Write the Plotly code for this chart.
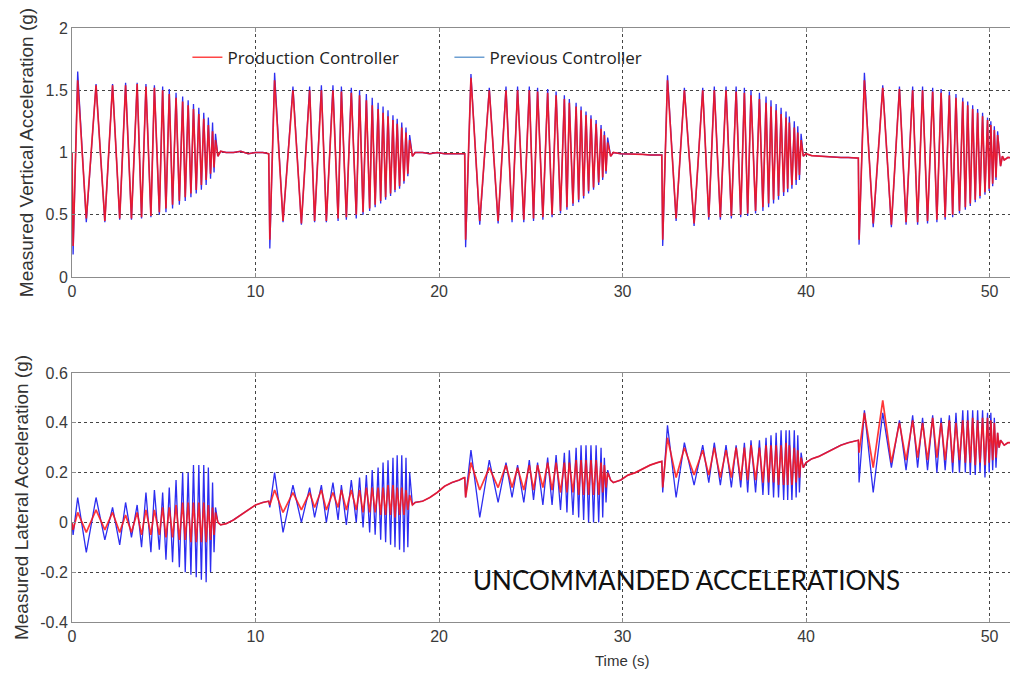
import plotly.graph_objects as go
from plotly.subplots import make_subplots

# ---- sweep 1 : times of the extrema (s) and the values (g)
t1 = [0.00, 0.06,
      0.31, 0.78, 1.31, 1.79, 2.21, 2.60,
      2.92, 3.24, 3.55, 3.79, 4.03, 4.30,
      4.49, 4.76, 4.94, 5.12, 5.30, 5.48,
      5.67, 5.85, 6.03, 6.17, 6.33, 6.48,
      6.62, 6.77, 6.91, 7.05, 7.18, 7.31,
      7.43, 7.55, 7.66, 7.74, 7.82]
vert_prod1 = [1.00, 0.25,
              1.58, 0.47, 1.54, 0.45, 1.54, 0.47,
              1.54, 0.47, 1.55, 0.48, 1.53, 0.49,
              1.52, 0.52, 1.50, 0.55, 1.47, 0.58,
              1.44, 0.61, 1.41, 0.64, 1.38, 0.67,
              1.35, 0.70, 1.31, 0.74, 1.27, 0.78,
              1.22, 0.83, 1.17, 0.88, 1.10]
vert_prev1 = [1.00, 0.18,
              1.65, 0.44, 1.55, 0.44, 1.55, 0.46,
              1.56, 0.46, 1.56, 0.47, 1.55, 0.48,
              1.54, 0.50, 1.53, 0.52, 1.51, 0.55,
              1.48, 0.58, 1.45, 0.61, 1.42, 0.64,
              1.39, 0.67, 1.36, 0.70, 1.32, 0.74,
              1.28, 0.79, 1.24, 0.84, 1.15]
lat_prod1 = [0.00, -0.03,
             0.04, -0.04, 0.05, -0.03, 0.04, -0.04,
             0.03, -0.04, 0.04, -0.05, 0.05, -0.05,
             0.05, -0.05, 0.06, -0.06, 0.06, -0.06,
             0.07, -0.07, 0.08, -0.07, 0.08, -0.08,
             0.08, -0.08, 0.08, -0.08, 0.08, -0.08,
             0.07, -0.07, 0.06, -0.05, 0.04]
lat_prev1 = [0.00, -0.05,
             0.10, -0.12, 0.10, -0.07, 0.06, -0.09,
             0.08, -0.06, 0.07, -0.10, 0.12, -0.12,
             0.13, -0.11, 0.12, -0.15, 0.14, -0.16,
             0.17, -0.18, 0.20, -0.20, 0.20, -0.21,
             0.23, -0.22, 0.23, -0.23, 0.23, -0.24,
             0.22, -0.20, 0.16, -0.12, 0.06]

# ---- sweep 2
t2 = [10.72, 10.78,
      11.04, 11.50, 12.04, 12.50, 12.95, 13.22,
      13.59, 13.86, 14.22, 14.50, 14.68, 14.95,
      15.22, 15.49, 15.67, 15.86, 16.04, 16.22,
      16.36, 16.52, 16.68, 16.82, 16.95, 17.09,
      17.22, 17.36, 17.49, 17.60, 17.72, 17.85,
      17.97, 18.09, 18.20, 18.30, 18.40]
vert_prod2 = [0.99, 0.30,
              1.58, 0.45, 1.50, 0.43, 1.50, 0.45,
              1.50, 0.45, 1.50, 0.47, 1.49, 0.48,
              1.48, 0.50, 1.46, 0.52, 1.42, 0.55,
              1.38, 0.58, 1.35, 0.61, 1.32, 0.64,
              1.29, 0.67, 1.26, 0.70, 1.23, 0.73,
              1.20, 0.77, 1.16, 0.83, 1.10]
vert_prev2 = [0.99, 0.23,
              1.64, 0.44, 1.53, 0.42, 1.53, 0.44,
              1.54, 0.44, 1.54, 0.45, 1.53, 0.46,
              1.52, 0.47, 1.50, 0.50, 1.47, 0.53,
              1.44, 0.56, 1.40, 0.59, 1.37, 0.62,
              1.34, 0.65, 1.30, 0.68, 1.27, 0.71,
              1.24, 0.75, 1.20, 0.81, 1.14]
lat_prod2 = [0.085, 0.07,
             0.13, 0.04, 0.12, 0.05, 0.12, 0.06,
             0.13, 0.05, 0.12, 0.06, 0.13, 0.05,
             0.13, 0.05, 0.13, 0.04, 0.14, 0.04,
             0.14, 0.04, 0.14, 0.03, 0.14, 0.03,
             0.15, 0.03, 0.15, 0.02, 0.14, 0.03,
             0.14, 0.03, 0.13, 0.05, 0.11]
lat_prev2 = [0.085, 0.06,
             0.20, -0.04, 0.15, 0.00, 0.14, 0.02,
             0.15, 0.00, 0.16, 0.01, 0.15, -0.01,
             0.17, 0.00, 0.18, -0.02, 0.19, -0.04,
             0.21, -0.05, 0.22, -0.07, 0.24, -0.08,
             0.25, -0.09, 0.26, -0.10, 0.27, -0.11,
             0.27, -0.12, 0.26, -0.10, 0.20]

# ---- sweep 3
t3 = [21.40, 21.45,
      21.74, 22.22, 22.74, 23.22, 23.65, 23.98,
      24.28, 24.62, 24.92, 25.15, 25.37, 25.66,
      25.92, 26.16, 26.38, 26.62, 26.83, 26.97,
      27.10, 27.30, 27.47, 27.61, 27.74, 27.88,
      28.01, 28.15, 28.28, 28.42, 28.56, 28.70,
      28.83, 28.92, 29.01, 29.10, 29.19]
vert_prod3 = [0.99, 0.30,
              1.60, 0.45, 1.50, 0.45, 1.50, 0.46,
              1.50, 0.46, 1.50, 0.47, 1.49, 0.48,
              1.48, 0.50, 1.46, 0.53, 1.43, 0.56,
              1.40, 0.59, 1.37, 0.62, 1.34, 0.65,
              1.30, 0.69, 1.27, 0.72, 1.23, 0.76,
              1.19, 0.80, 1.14, 0.85, 1.08]
vert_prev3 = [0.99, 0.24,
              1.63, 0.42, 1.52, 0.43, 1.53, 0.44,
              1.53, 0.44, 1.53, 0.45, 1.52, 0.46,
              1.51, 0.48, 1.49, 0.51, 1.46, 0.54,
              1.43, 0.57, 1.40, 0.60, 1.37, 0.63,
              1.33, 0.67, 1.30, 0.70, 1.26, 0.74,
              1.22, 0.78, 1.17, 0.83, 1.12]
lat_prod3 = [0.18, 0.10,
             0.24, 0.13, 0.22, 0.14, 0.23, 0.14,
             0.22, 0.13, 0.23, 0.13, 0.23, 0.14,
             0.24, 0.13, 0.24, 0.12, 0.24, 0.12,
             0.24, 0.12, 0.25, 0.11, 0.25, 0.11,
             0.25, 0.11, 0.25, 0.11, 0.25, 0.11,
             0.24, 0.12, 0.23, 0.14, 0.20]
lat_prev3 = [0.18, 0.10,
             0.29, 0.02, 0.25, 0.08, 0.24, 0.10,
             0.23, 0.08, 0.25, 0.09, 0.24, 0.07,
             0.26, 0.07, 0.27, 0.05, 0.28, 0.04,
             0.29, 0.03, 0.30, 0.02, 0.31, 0.01,
             0.31, 0.00, 0.31, 0.00, 0.31, 0.00,
             0.30, 0.02, 0.26, 0.08, 0.21]

# ---- sweep 4
t4 = [32.14, 32.19,
      32.45, 32.92, 33.37, 33.90, 34.37, 34.70,
      35.00, 35.33, 35.64, 35.93, 36.19, 36.44,
      36.64, 36.82, 37.00, 37.25, 37.46, 37.65,
      37.82, 37.96, 38.09, 38.23, 38.37, 38.50,
      38.64, 38.78, 38.91, 39.00, 39.09, 39.23,
      39.36, 39.46, 39.55, 39.64, 39.73]
vert_prod4 = [0.98, 0.30,
              1.58, 0.47, 1.50, 0.43, 1.50, 0.48,
              1.50, 0.48, 1.50, 0.49, 1.49, 0.50,
              1.48, 0.51, 1.46, 0.53, 1.43, 0.56,
              1.40, 0.59, 1.37, 0.62, 1.34, 0.65,
              1.31, 0.68, 1.28, 0.71, 1.24, 0.74,
              1.20, 0.78, 1.16, 0.82, 1.10]
vert_prev4 = [0.98, 0.25,
              1.62, 0.45, 1.52, 0.41, 1.52, 0.46,
              1.53, 0.46, 1.53, 0.47, 1.53, 0.48,
              1.52, 0.49, 1.50, 0.51, 1.48, 0.53,
              1.45, 0.56, 1.42, 0.59, 1.39, 0.62,
              1.36, 0.65, 1.33, 0.68, 1.29, 0.71,
              1.25, 0.74, 1.21, 0.78, 1.15]
lat_prod4 = [0.245, 0.14,
             0.34, 0.18, 0.30, 0.19, 0.29, 0.19,
             0.30, 0.18, 0.29, 0.18, 0.30, 0.17,
             0.30, 0.17, 0.31, 0.17, 0.30, 0.16,
             0.31, 0.16, 0.31, 0.16, 0.31, 0.15,
             0.31, 0.15, 0.32, 0.15, 0.31, 0.15,
             0.30, 0.16, 0.29, 0.18, 0.26]
lat_prev4 = [0.245, 0.12,
             0.39, 0.10, 0.32, 0.15, 0.31, 0.16,
             0.32, 0.15, 0.31, 0.14, 0.31, 0.14,
             0.32, 0.12, 0.33, 0.12, 0.33, 0.11,
             0.34, 0.11, 0.35, 0.10, 0.36, 0.10,
             0.37, 0.09, 0.37, 0.09, 0.37, 0.09,
             0.37, 0.10, 0.35, 0.12, 0.28]

# ---- sweep 5
t5 = [42.85, 42.89,
      43.18, 43.66, 44.18, 44.65, 45.09, 45.45,
      45.81, 46.08, 46.35, 46.62, 46.90, 47.13,
      47.36, 47.58, 47.81, 47.99, 48.17, 48.36,
      48.54, 48.68, 48.81, 48.95, 49.08, 49.22,
      49.35, 49.48, 49.62, 49.75, 49.89, 49.98,
      50.07, 50.17, 50.26, 50.35, 50.44]
vert_prod5 = [0.955, 0.30,
              1.58, 0.43, 1.52, 0.42, 1.51, 0.44,
              1.50, 0.44, 1.50, 0.45, 1.49, 0.46,
              1.48, 0.48, 1.46, 0.50, 1.44, 0.53,
              1.41, 0.56, 1.38, 0.59, 1.35, 0.62,
              1.32, 0.65, 1.29, 0.68, 1.26, 0.71,
              1.22, 0.75, 1.18, 0.80, 1.14]
vert_prev5 = [0.955, 0.26,
              1.64, 0.40, 1.54, 0.40, 1.53, 0.42,
              1.53, 0.42, 1.53, 0.43, 1.52, 0.44,
              1.51, 0.46, 1.49, 0.48, 1.47, 0.51,
              1.44, 0.54, 1.41, 0.57, 1.38, 0.60,
              1.35, 0.63, 1.32, 0.66, 1.28, 0.69,
              1.25, 0.73, 1.21, 0.78, 1.17]
lat_prod5 = [0.33, 0.28,
             0.44, 0.22, 0.49, 0.24, 0.40, 0.25,
             0.41, 0.26, 0.40, 0.25, 0.42, 0.26,
             0.40, 0.25, 0.41, 0.24, 0.40, 0.25,
             0.41, 0.24, 0.41, 0.24, 0.42, 0.23,
             0.41, 0.24, 0.42, 0.23, 0.42, 0.24,
             0.41, 0.25, 0.40, 0.26, 0.36]
lat_prev5 = [0.33, 0.16,
             0.45, 0.12, 0.44, 0.22, 0.41, 0.21,
             0.43, 0.22, 0.42, 0.21, 0.43, 0.20,
             0.42, 0.21, 0.43, 0.20, 0.44, 0.20,
             0.45, 0.20, 0.45, 0.19, 0.45, 0.19,
             0.45, 0.20, 0.45, 0.18, 0.44, 0.20,
             0.44, 0.21, 0.42, 0.22, 0.36]

# ---- quiet stretches after each sweep (both controllers overlap here)
tq1 = [7.95, 8.10, 8.40, 8.80, 9.20, 9.60, 10.00, 10.40, 10.68]
vert_q1 = [0.97, 1.01, 1.00, 1.00, 1.01, 0.99, 1.00, 1.00, 0.99]
lat_q1 = [0.00, -0.01, -0.005, 0.01, 0.03, 0.05, 0.07, 0.08, 0.085]

tq2 = [18.55, 18.70, 19.10, 19.50, 19.90, 20.30, 20.70, 21.10, 21.37]
vert_q2 = [0.97, 1.00, 1.00, 0.99, 1.00, 0.99, 0.99, 0.99, 0.985]
lat_q2 = [0.07, 0.08, 0.085, 0.10, 0.12, 0.145, 0.16, 0.17, 0.18]

tq3 = [29.35, 29.50, 29.90, 30.30, 30.70, 31.10, 31.50, 31.90, 32.11]
vert_q3 = [0.97, 1.00, 0.99, 0.99, 0.985, 0.985, 0.98, 0.98, 0.98]
lat_q3 = [0.17, 0.16, 0.17, 0.19, 0.20, 0.215, 0.23, 0.24, 0.245]

tq4 = [39.85, 40.00, 40.30, 40.70, 41.10, 41.50, 41.90, 42.30, 42.82]
vert_q4 = [0.97, 0.99, 0.975, 0.97, 0.97, 0.965, 0.96, 0.96, 0.955]
lat_q4 = [0.22, 0.24, 0.255, 0.265, 0.28, 0.295, 0.31, 0.32, 0.33]

tq5 = [50.52, 50.60, 50.70, 50.80, 51.00, 51.30, 51.60]
vert_q5 = [1.02, 0.89, 0.97, 0.94, 0.96, 0.955, 0.955]
lat_q5 = [0.30, 0.33, 0.32, 0.31, 0.32, 0.32, 0.32]

x_ticks = [0, 10, 20, 30, 40, 50]
vert_ticks = [0, 0.5, 1, 1.5, 2]
lat_ticks = [-0.4, -0.2, 0, 0.2, 0.4, 0.6]
lat_ticktext = ['-0.4', '-0.2', '0', '0.2', '0.4', '0.6']

sweeps = [(t1, vert_prod1, vert_prev1, lat_prod1, lat_prev1),
          (t2, vert_prod2, vert_prev2, lat_prod2, lat_prev2),
          (t3, vert_prod3, vert_prev3, lat_prod3, lat_prev3),
          (t4, vert_prod4, vert_prev4, lat_prod4, lat_prev4),
          (t5, vert_prod5, vert_prev5, lat_prod5, lat_prev5)]
quiets = [(tq1, vert_q1, lat_q1), (tq2, vert_q2, lat_q2), (tq3, vert_q3, lat_q3),
          (tq4, vert_q4, lat_q4), (tq5, vert_q5, lat_q5)]

time, vert_prod, vert_prev, lat_prod, lat_prev = [], [], [], [], []
for s, q in zip(sweeps, quiets):
    time += s[0] + q[0]
    vert_prod += s[1] + q[1]
    vert_prev += s[2] + q[1]
    lat_prod += s[3] + q[2]
    lat_prev += s[4] + q[2]

RED = 'rgba(255,20,20,0.85)'
BLUE = 'rgb(45,45,240)'

fig = make_subplots(rows=2, cols=1)

for row, prev, prod in [(1, vert_prev, vert_prod), (2, lat_prev, lat_prod)]:
    fig.add_trace(go.Scatter(x=time, y=prev, mode='lines', line=dict(color=BLUE, width=1.3),
                             showlegend=False, hoverinfo='skip'), row=row, col=1)
    fig.add_trace(go.Scatter(x=time, y=prod, mode='lines', line=dict(color=RED, width=1.7),
                             showlegend=False, hoverinfo='skip'), row=row, col=1)

# legend entries
fig.add_trace(go.Scatter(x=[None], y=[None], mode='lines', name='Production Controller',
                         line=dict(color='rgb(255,70,70)', width=1.5)), row=1, col=1)
fig.add_trace(go.Scatter(x=[None], y=[None], mode='lines', name='Previous Controller',
                         line=dict(color='rgb(110,160,210)', width=1.5)), row=1, col=1)

tickfont = dict(family='Liberation Sans, Arial, sans-serif', size=16, color='#3a3a3a')
titlefont = dict(family='Liberation Sans, Arial, sans-serif', size=19, color='#333')
common = dict(showline=True, linecolor='#8c8c8c', linewidth=1, ticks='inside', ticklen=4,
              tickcolor='#8c8c8c', showgrid=True, gridcolor='#444444', griddash='dot',
              gridwidth=1, zeroline=False, tickfont=tickfont, automargin=False)

fig.update_xaxes(range=[0, 51.55], tickvals=x_ticks, mirror='ticks', **common)
fig.update_yaxes(mirror=False, **common)
fig.update_yaxes(range=[0, 2], tickvals=vert_ticks, row=1, col=1,
                 title=dict(text='Measured Vertical Acceleration (g)', standoff=6, font=titlefont))
fig.update_yaxes(range=[-0.4, 0.6], tickvals=lat_ticks, ticktext=lat_ticktext, row=2, col=1,
                 title=dict(text='Measured Lateral Acceleration (g)', standoff=6, font=titlefont))

# the page body adds an 8 px margin, so the figure is 8 px smaller than the window
fig.update_layout(
    width=1010, height=667,
    margin=dict(l=64, r=0, t=20, b=53),
    paper_bgcolor='white', plot_bgcolor='white',
    xaxis=dict(domain=[0, 1]), yaxis=dict(domain=[0.5808, 1]),
    xaxis2=dict(domain=[0, 1]), yaxis2=dict(domain=[0, 0.4192]),
    legend=dict(orientation='h', x=0.122, y=0.95, xanchor='left', yanchor='middle',
                bgcolor='rgba(0,0,0,0)', entrywidth=217, entrywidthmode='pixels',
                font=dict(family='Open Sans', size=17, color='#222')),
    annotations=[
        dict(text='UNCOMMANDED ACCELERATIONS', x=33.5, y=-0.23, xref='x2', yref='y2',
             showarrow=False, font=dict(family='Lato', size=26, color='#111')),
        dict(text='Time (s)', x=0.5814, y=-0.064, xref='paper', yref='paper',
             showarrow=False, yanchor='middle',
             font=dict(family='Liberation Sans, Arial', size=15, color='#333')),
    ],
)

fig.write_html("out.html")
